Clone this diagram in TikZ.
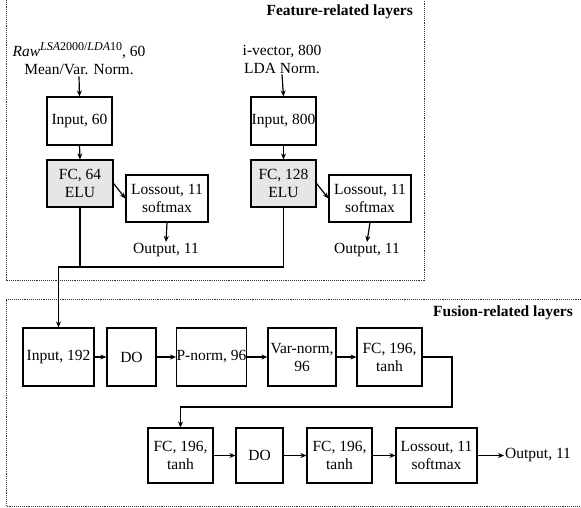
\documentclass[tikz,border=0pt]{standalone}
\usepackage{fontspec}
\setmainfont{Liberation Serif}
\usetikzlibrary{arrows.meta}
\definecolor{fcgray}{HTML}{E6E6E6}
\tikzset{
  layer/.style={draw, line width=1.2pt, inner sep=0pt, align=center,
    font=\fontsize{15.5}{18}\selectfont},
  fclayer/.style={layer, fill=fcgray},
  lbl/.style={inner sep=1pt, align=center, font=\fontsize{15.5}{18}\selectfont},
  wire/.style={line width=1.2pt},
  arr/.style={wire, -{Stealth[length=6pt,width=5pt]}},
  frame/.style={line width=0.9pt, densely dotted, black!80},
  title/.style={inner sep=0pt, anchor=east, font=\fontsize{15.5}{18}\selectfont\bfseries}
}
\newcommand{\featsup}[1]{\raisebox{6pt}{\fontsize{12}{12}\selectfont #1}}
\begin{document}
\begin{tikzpicture}[x=1pt,y=-1pt]
\useasboundingbox (0,0) rectangle (581,508);

% group frames
\draw[frame] (6,-2) -- (6,280) -- (424,280) -- (424,-2);
\draw[frame] (583,299) -- (6,299) -- (6,506) -- (583,506);
\node[title] (ttop) at (413,12) {Feature-related layers};
\node[title] (tbot) at (573,313) {Fusion-related layers};

% left feature branch
\node[lbl] (rawlbl) at (79,59) {\textit{Raw}\featsup{\textit{LSA}2000/\textit{LDA}10}, 60\\Mean/Var. Norm.};
\node[layer, minimum width=65pt, minimum height=48pt] (inA) at (79.5,121) {Input, 60};
\node[fclayer, minimum width=66pt, minimum height=47pt] (fcA) at (80,183.5) {FC, 64\\ELU};
\node[layer, minimum width=82pt, minimum height=47pt] (lossA) at (167,198.5) {Lossout, 11\\softmax};
\node[lbl] (outA) at (166,250) {Output, 11};

% right feature branch
\node[lbl] (ivlbl) at (282,59) {i-vector, 800\\LDA Norm.};
\node[layer, minimum width=65pt, minimum height=48pt] (inB) at (283.5,121) {Input, 800};
\node[fclayer, minimum width=65pt, minimum height=47pt] (fcB) at (283.5,183.5) {FC, 128\\ELU};
\node[layer, minimum width=82pt, minimum height=47pt] (lossB) at (370,198.5) {Lossout, 11\\softmax};
\node[lbl] (outB) at (367,250) {Output, 11};

% fusion, first row
\node[layer, minimum width=71pt, minimum height=58pt] (inC) at (58.5,357) {Input, 192};
\node[layer, minimum width=49pt, minimum height=58pt] (doA) at (131.5,357) {DO};
\node[layer, minimum width=69pt, minimum height=58pt] (pn) at (211.5,357) {P-norm, 96};
\node[layer, minimum width=68pt, minimum height=58pt] (vn) at (302,357) {Var-norm,\\96};
\node[layer, minimum width=65pt, minimum height=58pt] (fcC) at (389.5,357) {FC, 196,\\tanh};

% fusion, second row
\node[layer, minimum width=65pt, minimum height=55pt] (fcD) at (180.5,455.5) {FC, 196,\\tanh};
\node[layer, minimum width=47pt, minimum height=55pt] (doB) at (259.5,455.5) {DO};
\node[layer, minimum width=65pt, minimum height=55pt] (fcE) at (339.5,455.5) {FC, 196,\\tanh};
\node[layer, minimum width=81pt, minimum height=55pt] (lossC) at (436.5,455.5) {Lossout, 11\\softmax};
\node[lbl, anchor=west] (outC) at (504,455.5) {Output, 11};

% routing points
\coordinate (mA) at (80,267);
\coordinate (mB) at (283.5,267);
\coordinate (mC) at (58.5,267);
\coordinate (fr) at (452,357);
\coordinate (fb) at (452,407);
\coordinate (fl) at (180.5,407);

% feature connectors
\draw[arr] (rawlbl.south) -- (inA.north);
\draw[arr] (inA.south) -- (fcA.north);
\draw[arr] (fcA.east) -- (lossA.west);
\draw[arr] (lossA.south) -- (outA.north);
\draw[arr] (ivlbl.south) -- (inB.north);
\draw[arr] (inB.south) -- (fcB.north);
\draw[arr] (fcB.east) -- (lossB.west);
\draw[arr] (lossB.south) -- (outB.north);

% merge into fusion input
\draw[wire] (fcA.south) -- (mA) -- (mB) -- (fcB.south);
\draw[arr] (mA) -- (mC) -- (inC.north);

% fusion connectors
\draw[arr] (inC) -- (doA);
\draw[arr] (doA) -- (pn);
\draw[arr] (pn) -- (vn);
\draw[arr] (vn) -- (fcC);
\draw[arr] (fcC.east) -- (fr) -- (fb) -- (fl) -- (fcD.north);
\draw[arr] (fcD) -- (doB);
\draw[arr] (doB) -- (fcE);
\draw[arr] (fcE) -- (lossC);
\draw[arr] (lossC) -- (outC);
\end{tikzpicture}
\end{document}
